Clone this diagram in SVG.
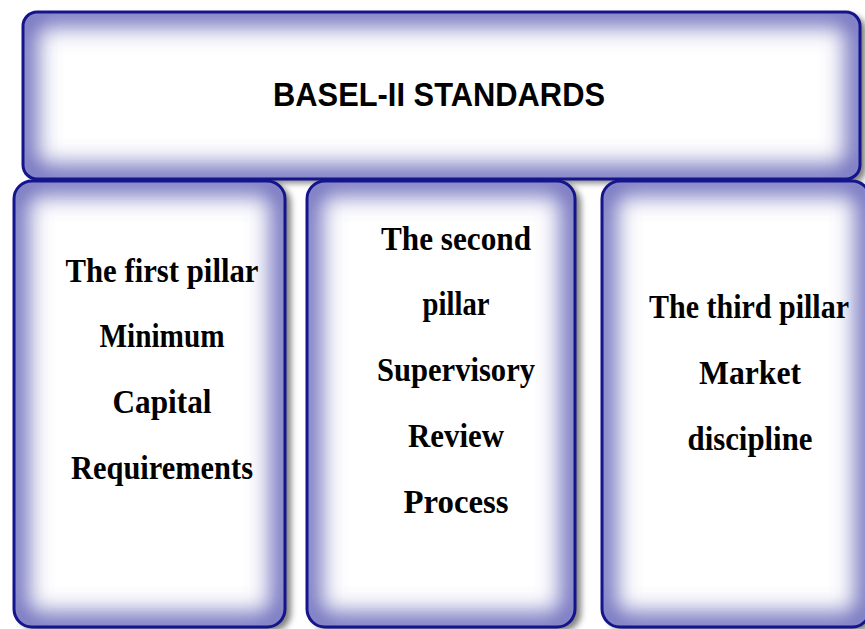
<svg xmlns="http://www.w3.org/2000/svg" width="865" height="629" viewBox="0 0 865 629">
  <style>
    .frame { fill: none; stroke: #14148c; stroke-width: 3; }
    .base { fill: #ffffff; }
    .glow { fill: none; stroke: #5e5eb6; stroke-width: 26; }
    .shade { fill: #808080; }
    .title { font-family: "Liberation Sans", Arial, sans-serif; font-weight: bold; font-size: 33px; fill: #000000; text-anchor: middle; }
    .label { font-family: "Liberation Serif", "Times New Roman", serif; font-weight: bold; font-size: 33px; fill: #000000; text-anchor: middle; }
  </style>
  <defs>
    <filter id="soft" x="-10%" y="-10%" width="120%" height="120%">
      <feGaussianBlur stdDeviation="12"/>
    </filter>
    <filter id="shadowBlur" x="-10%" y="-10%" width="120%" height="120%">
      <feGaussianBlur stdDeviation="3"/>
    </filter>
    <clipPath id="clipTop"><rect x="23" y="12" width="837" height="167" rx="14"/></clipPath>
    <clipPath id="clipP1"><rect x="14" y="181" width="271" height="446" rx="18"/></clipPath>
    <clipPath id="clipP2"><rect x="307" y="181" width="268" height="446" rx="18"/></clipPath>
    <clipPath id="clipP3"><rect x="602" y="181" width="268" height="446" rx="18"/></clipPath>
  </defs>

  <rect width="865" height="629" fill="#ffffff"/>

  <!-- drop shadows -->
  <g filter="url(#shadowBlur)">
    <rect class="shade" x="29" y="16" width="837" height="167" rx="14"/>
    <rect class="shade" x="20" y="185" width="271" height="446" rx="18"/>
    <rect class="shade" x="313" y="185" width="268" height="446" rx="18"/>
    <rect class="shade" x="608" y="185" width="268" height="446" rx="18"/>
  </g>

  <g id="standards">
    <rect class="base" x="23" y="12" width="837" height="167" rx="14"/>
    <rect class="glow" x="23" y="12" width="837" height="167" rx="14" clip-path="url(#clipTop)" filter="url(#soft)"/>
    <rect class="frame" x="23" y="12" width="837" height="167" rx="14"/>
    <text class="title" x="439" y="106" textLength="332" lengthAdjust="spacingAndGlyphs">BASEL-II STANDARDS</text>
  </g>

  <g id="pillar1">
    <rect class="base" x="14" y="181" width="271" height="446" rx="18"/>
    <rect class="glow" x="14" y="181" width="271" height="446" rx="18" clip-path="url(#clipP1)" filter="url(#soft)"/>
    <rect class="frame" x="14" y="181" width="271" height="446" rx="18"/>
    <text class="label" x="162" y="282" textLength="193" lengthAdjust="spacingAndGlyphs">The first pillar</text>
    <text class="label" x="162" y="347" textLength="125" lengthAdjust="spacingAndGlyphs">Minimum</text>
    <text class="label" x="162" y="413" textLength="99" lengthAdjust="spacingAndGlyphs">Capital</text>
    <text class="label" x="162" y="479" textLength="182" lengthAdjust="spacingAndGlyphs">Requirements</text>
  </g>

  <g id="pillar2">
    <rect class="base" x="307" y="181" width="268" height="446" rx="18"/>
    <rect class="glow" x="307" y="181" width="268" height="446" rx="18" clip-path="url(#clipP2)" filter="url(#soft)"/>
    <rect class="frame" x="307" y="181" width="268" height="446" rx="18"/>
    <text class="label" x="456" y="250" textLength="150" lengthAdjust="spacingAndGlyphs">The second</text>
    <text class="label" x="456" y="315" textLength="67" lengthAdjust="spacingAndGlyphs">pillar</text>
    <text class="label" x="456" y="381" textLength="158" lengthAdjust="spacingAndGlyphs">Supervisory</text>
    <text class="label" x="456" y="447" textLength="96" lengthAdjust="spacingAndGlyphs">Review</text>
    <text class="label" x="456" y="513" textLength="105" lengthAdjust="spacingAndGlyphs">Process</text>
  </g>

  <g id="pillar3">
    <rect class="base" x="602" y="181" width="268" height="446" rx="18"/>
    <rect class="glow" x="602" y="181" width="268" height="446" rx="18" clip-path="url(#clipP3)" filter="url(#soft)"/>
    <rect class="frame" x="602" y="181" width="268" height="446" rx="18"/>
    <text class="label" x="749" y="318" textLength="200" lengthAdjust="spacingAndGlyphs">The third pillar</text>
    <text class="label" x="750" y="384" textLength="102" lengthAdjust="spacingAndGlyphs">Market</text>
    <text class="label" x="750" y="450" textLength="125" lengthAdjust="spacingAndGlyphs">discipline</text>
  </g>

  <g id="connectors"/>
</svg>
